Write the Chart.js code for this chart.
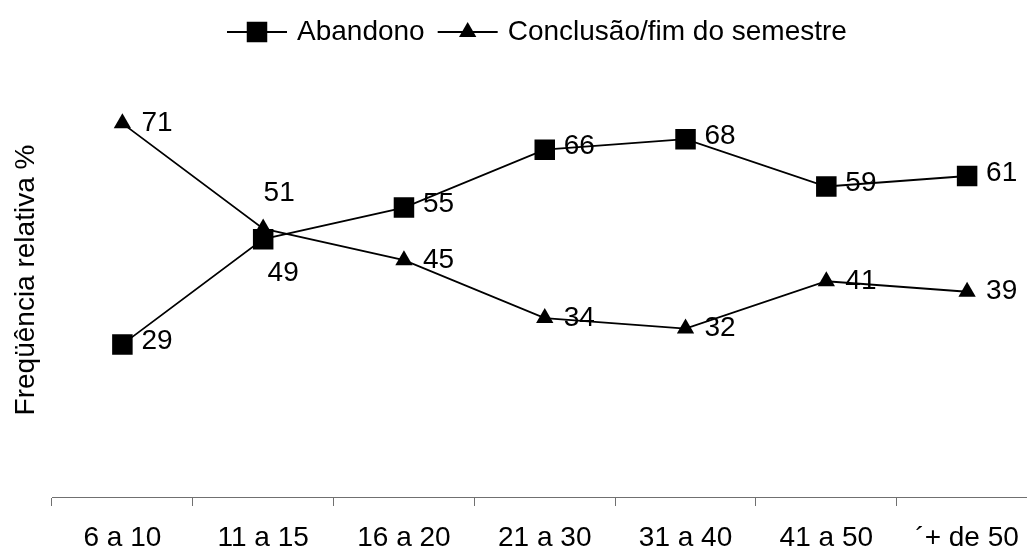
<!DOCTYPE html>
<html>
<head>
<meta charset="utf-8">
<script src="https://cdn.jsdelivr.net/npm/chart.js@4/dist/chart.umd.min.js"></script>
<style>
  html, body { margin: 0; padding: 0; background: #fff; overflow: hidden; }
  #wrap { width: 1052px; height: 551px; }
</style>
</head>
<body>
<div id="wrap"><canvas id="c" width="1052" height="551"></canvas></div>
<script>
// Age bands (years) and relative frequency (%) per outcome
const categories = ['6 a 10', '11 a 15', '16 a 20', '21 a 30', '31 a 40', '41 a 50', '´+ de 50'];
const abandono   = [29, 49, 55, 66, 68, 59, 61];
const conclusao  = [71, 51, 45, 34, 32, 41, 39];
const seriesNames = ['Abandono', 'Conclusão/fim do semestre'];
const yTitle = 'Freqüência relativa %';

// where each value label sits relative to its point
const abandonoLabelSide  = ['right', 'below', 'right', 'right', 'right', 'right', 'right'];
const conclusaoLabelSide = ['right', 'above', 'right', 'right', 'right', 'right', 'right'];

const FONT_FAMILY = '"Liberation Sans", Arial, Helvetica, sans-serif';
const FONT_SIZE = 28;
const AXIS_GREY = '#707070';

// Value labels drawn next to every point
const valueLabels = {
  id: 'valueLabels',
  afterDatasetsDraw(chart) {
    const ctx = chart.ctx;
    ctx.save();
    ctx.font = `${FONT_SIZE}px ${FONT_FAMILY}`;
    ctx.fillStyle = '#000';
    ctx.textBaseline = 'middle';
    chart.data.datasets.forEach((ds, i) => {
      const meta = chart.getDatasetMeta(i);
      meta.data.forEach((pt, j) => {
        const side = ds.labelSide[j];
        const txt = String(ds.data[j]);
        if (side === 'above') {
          ctx.textAlign = 'center';
          ctx.fillText(txt, pt.x + 16, pt.y - 35);
        } else if (side === 'below') {
          ctx.textAlign = 'center';
          ctx.fillText(txt, pt.x + 20, pt.y + 34);
        } else {
          ctx.textAlign = 'left';
          ctx.fillText(txt, pt.x + 19, pt.y + ds.labelDy);
        }
      });
    });
    ctx.restore();
  }
};

// Legend with a line segment through each marker, plus the rotated y title
const legendAndTitle = {
  id: 'legendAndTitle',
  afterDraw(chart) {
    const ctx = chart.ctx;
    ctx.save();
    ctx.font = `${FONT_SIZE}px ${FONT_FAMILY}`;
    ctx.textBaseline = 'middle';
    ctx.textAlign = 'left';
    const ly = 32;
    const lineLen = 60;
    let x = 227;
    chart.data.datasets.forEach((ds) => {
      ctx.strokeStyle = ds.borderColor;
      ctx.lineWidth = ds.borderWidth;
      ctx.beginPath();
      ctx.moveTo(x, ly);
      ctx.lineTo(x + lineLen, ly);
      ctx.stroke();
      ctx.fillStyle = ds.pointBackgroundColor;
      const mx = x + lineLen / 2;
      if (ds.pointStyle === 'rect') {
        const s = ds.pointRadius * Math.SQRT1_2;
        ctx.fillRect(mx - s, ly - s, 2 * s, 2 * s);
      } else {
        const r = ds.pointRadius;
        const hw = r * Math.sin(Math.PI / 3);
        ctx.beginPath();
        ctx.moveTo(mx, ly - r);
        ctx.lineTo(mx + hw, ly + r / 2);
        ctx.lineTo(mx - hw, ly + r / 2);
        ctx.closePath();
        ctx.fill();
      }
      ctx.fillStyle = '#000';
      ctx.fillText(ds.label, x + lineLen + 10, ly);
      x += lineLen + 10 + ctx.measureText(ds.label).width + 13;
    });

    ctx.translate(26, 280);
    ctx.rotate(-Math.PI / 2);
    ctx.textAlign = 'center';
    ctx.fillStyle = '#000';
    ctx.fillText(yTitle, 0, 0);
    ctx.restore();
  }
};

new Chart(document.getElementById('c'), {
  type: 'line',
  data: {
    labels: categories,
    datasets: [
      {
        label: seriesNames[0],
        data: abandono,
        labelSide: abandonoLabelSide,
        labelDy: -3,
        borderColor: '#000',
        borderWidth: 1.8,
        pointStyle: 'rect',
        pointRadius: 14.5,
        pointBorderWidth: 0,
        pointBackgroundColor: '#000',
        tension: 0,
        fill: false
      },
      {
        label: seriesNames[1],
        data: conclusao,
        labelSide: conclusaoLabelSide,
        labelDy: 0,
        borderColor: '#000',
        borderWidth: 1.8,
        pointStyle: 'triangle',
        pointRadius: 10,
        pointBorderWidth: 0,
        pointBackgroundColor: '#000',
        tension: 0,
        fill: false
      }
    ]
  },
  options: {
    responsive: false,
    animation: false,
    events: [],
    layout: { padding: { left: 52, right: 3, top: 76, bottom: 0 } },
    plugins: {
      legend: { display: false },
      tooltip: { enabled: false }
    },
    scales: {
      x: {
        offset: true,
        grid: {
          display: true,
          drawOnChartArea: false,
          drawTicks: true,
          tickLength: 9,
          offset: true,
          color: AXIS_GREY,
          lineWidth: 1
        },
        border: { display: true, color: AXIS_GREY, width: 1 },
        ticks: {
          color: '#000',
          font: { family: FONT_FAMILY, size: FONT_SIZE },
          padding: 15,
          maxRotation: 0,
          minRotation: 0,
          autoSkip: false
        },
        afterFit(scale) { scale.height = 54; }
      },
      y: { display: false, min: 0, max: 80 }
    }
  },
  plugins: [valueLabels, legendAndTitle]
});
</script>
</body>
</html>
